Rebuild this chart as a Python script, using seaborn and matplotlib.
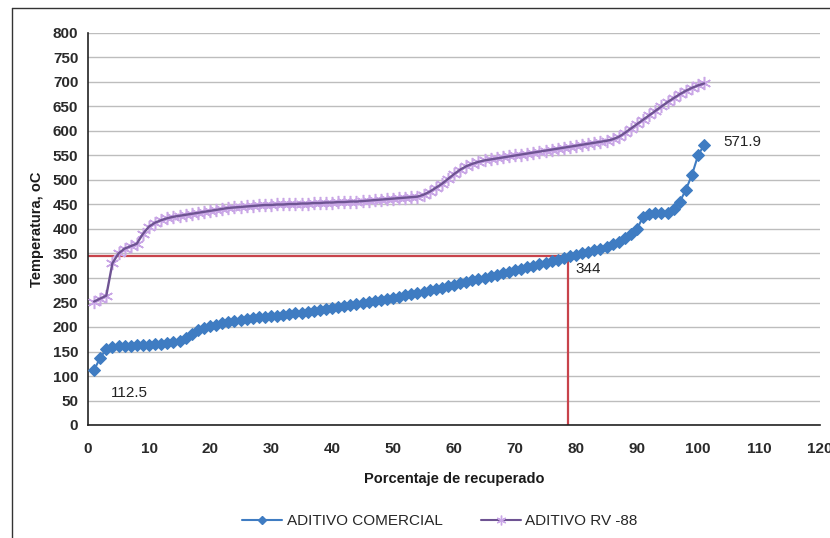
import numpy as np
import pandas as pd
import matplotlib
matplotlib.use("Agg")
import matplotlib.pyplot as plt
from matplotlib.lines import Line2D
import seaborn as sns

# Porcentaje de recuperado (%)
recuperado = list(range(1, 102))

# Temperatura (oC) - aditivo comercial
temp_comercial = [
    112.5, 137, 155, 160, 161, 162, 162, 163, 163, 164,
    165, 166, 168, 169, 171, 178, 186, 193, 198, 202,
    205, 208, 210, 213, 215, 217, 219, 220, 221, 222,
    223, 225, 226, 228, 229, 231, 232, 234, 236, 238,
    240, 242, 244, 246, 249, 251, 253, 255, 257, 260,
    262, 265, 267, 270, 272, 275, 277, 280, 283, 286,
    289, 292, 295, 298, 301, 304, 307, 310, 313, 316,
    319, 322, 325, 328, 331, 334, 337, 340, 344, 347,
    350, 353, 357, 360, 364, 369, 374, 381, 389, 400,
    425, 430, 432, 432, 433, 440, 455, 480, 510, 550,
    571.9,
]

# Temperatura (oC) - aditivo RV -88
temp_rv88 = [
    252, 258, 264, 330, 350, 360, 365, 370, 390, 405,
    413, 418, 422, 425, 427, 429, 431, 433, 435, 437,
    439, 441, 443, 444, 445, 446, 447, 448, 449, 449,
    450, 450, 451, 451, 452, 452, 453, 453, 454, 454,
    455, 455, 456, 456, 457, 458, 459, 460, 461, 462,
    463, 464, 465, 466, 470, 476, 484, 492, 502, 512,
    521, 528, 533, 537, 540, 542, 544, 546, 548, 550,
    552, 554, 556, 558, 560, 562, 564, 566, 568, 570,
    572, 574, 576, 578, 580, 583, 588, 596, 605, 614,
    623, 632, 641, 650, 659, 667, 675, 682, 688, 693,
    697,
]

# Punto de lectura marcado con lineas rojas
ref_x = 78.7
ref_y = 344

x_ticks = list(range(0, 121, 10))
y_ticks = list(range(0, 801, 50))

sns.set_theme(style="white")
plt.rcParams["font.family"] = ["Liberation Sans", "DejaVu Sans"]

fig = plt.figure(figsize=(8.30, 5.38), dpi=100)
ax = fig.add_axes([88 / 830, (538 - 425) / 538, 732 / 830, 392 / 538])

df_c = pd.DataFrame({"x": recuperado, "y": temp_comercial})
df_r = pd.DataFrame({"x": recuperado, "y": temp_rv88})

blue = "#3F7CC2"
purple_line = "#6E5392"
purple_mark = "#C9A6E6"
star = (6, 2, 0)

# Reference lines
ax.plot([0, ref_x], [ref_y, ref_y], color="#C8434B", lw=1.6, zorder=2)
ax.plot([ref_x, ref_x], [0, ref_y], color="#C8434B", lw=1.6, zorder=2)

# RV -88: star markers underneath, darker line on top
sns.lineplot(data=df_r, x="x", y="y", ax=ax, color=purple_mark, lw=0,
             marker=star, markersize=9.5, markeredgecolor=purple_mark,
             markeredgewidth=1.1, zorder=3, legend=False)
sns.lineplot(data=df_r, x="x", y="y", ax=ax, color=purple_line, lw=1.7,
             zorder=3.5, legend=False)
sns.lineplot(data=df_c, x="x", y="y", ax=ax, color=blue, lw=1.5,
             marker="D", markersize=6.5, markeredgecolor=blue,
             markerfacecolor=blue, zorder=4, legend=False)

ax.set_xlim(0, 120)
ax.set_ylim(0, 800)
ax.set_xticks(x_ticks)
ax.set_yticks(y_ticks)
ax.yaxis.grid(True, color="#BDBDBD", lw=1.0)
ax.xaxis.grid(False)
ax.set_axisbelow(True)
for s in ["top", "right"]:
    ax.spines[s].set_visible(False)
for s in ["left", "bottom"]:
    ax.spines[s].set_color("#222222")
    ax.spines[s].set_linewidth(1.2)
ax.tick_params(axis="both", which="major", direction="out", length=4,
               width=1, color="#222222", labelsize=11, labelcolor="#2A2A2A")
ax.tick_params(axis="x", pad=8)
ax.tick_params(axis="y", pad=3)
for lbl in ax.get_yticklabels() + ax.get_xticklabels():
    lbl.set_fontweight("bold")

ax.set_xlabel("Porcentaje de recuperado", fontsize=10.5, fontweight="bold",
              color="#1A1A1A", labelpad=12)
ax.set_ylabel("Temperatura, oC", fontsize=10.5, fontweight="bold",
              color="#1A1A1A", labelpad=6)

# Data labels
ax.annotate(f"{temp_comercial[0]}", (recuperado[0], temp_comercial[0]),
            xytext=(12, -22), textcoords="offset points", fontsize=11,
            color="#222222", ha="left", va="bottom")
ax.annotate(f"{ref_y}", (ref_x, ref_y), xytext=(5, -9),
            textcoords="offset points", fontsize=11, color="#222222",
            ha="left", va="center")
ax.annotate(f"{temp_comercial[-1]}", (recuperado[-1], temp_comercial[-1]),
            xytext=(14, 2), textcoords="offset points", fontsize=11,
            color="#222222", ha="left", va="center")

handles = [
    Line2D([], [], color=blue, lw=1.5, marker="D", markersize=4,
           markerfacecolor=blue, markeredgecolor=blue),
    Line2D([], [], color=purple_line, lw=1.5, marker=star, markersize=7,
           markeredgecolor=purple_mark),
]
fig.legend(handles, ["ADITIVO COMERCIAL", "ADITIVO RV -88"], loc="center",
           bbox_to_anchor=(440 / 830, 1 - 521 / 538), ncol=2, frameon=False,
           fontsize=11, handlelength=2.6, columnspacing=2.5, handletextpad=0.3)

# Outer frame
fig.add_artist(Line2D([12 / 830, 12 / 830], [0, 1 - 8 / 538],
                      transform=fig.transFigure, color="#333333", lw=1))
fig.add_artist(Line2D([12 / 830, 1], [1 - 8 / 538, 1 - 8 / 538],
                      transform=fig.transFigure, color="#333333", lw=1))

fig.savefig("out.png", dpi=100)
